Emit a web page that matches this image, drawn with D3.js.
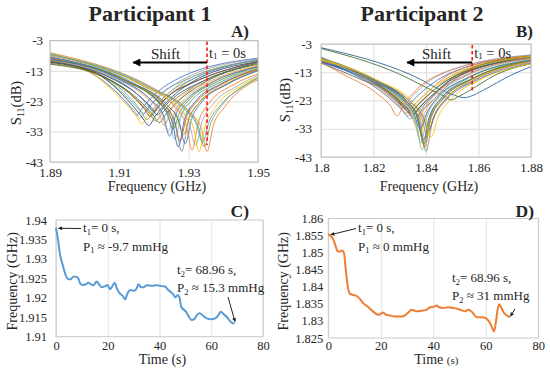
<!DOCTYPE html>
<html>
<head>
<meta charset="utf-8">
<script src="https://cdn.jsdelivr.net/npm/d3@7"></script>
<style>
  body { margin: 0; background: #fff; }
  svg { display: block; font-family: "Liberation Serif", "Times New Roman", serif; }
  text { font-family: "Liberation Serif", "Times New Roman", serif; fill: #262626; }
</style>
</head>
<body>
<svg width="550" height="369"></svg>
<script>
// ---- data ----
// S11 sweeps: [f0, dB@left edge, dB at f0+offset..., dB@right edge]
const dbTicks = [-3, -13, -23, -33, -43];
const freqTicksA = [1.89, 1.91, 1.93, 1.95];
const freqTicksB = [1.8, 1.82, 1.84, 1.86, 1.88];
const sweepOffsetsA = [-0.015, -0.005, -0.0018, 0, 0.0018, 0.005, 0.012];
const sweepOffsetsB = [-0.02, -0.007, -0.0025, 0, 0.0025, 0.007, 0.018];

const sweepsA = [
  [1.9150, -9.0, -12.5, -21.0, -25.0, -27.5, -25.0, -21.0, -15.5, -8.8],
  [1.9353, -7.0, -19.0, -26.5, -31.5, -39.5, -31.0, -25.0, -17.5, -16.0],
  [1.9160, -9.4, -13.0, -22.0, -26.0, -28.5, -26.0, -22.0, -16.0, -9.0],
  [1.9165, -10.0, -13.5, -23.5, -27.5, -30.5, -27.5, -23.5, -16.5, -9.5],
  [1.9170, -9.2, -13.0, -20.5, -24.5, -27.0, -24.5, -20.5, -16.0, -9.3],
  [1.9180, -9.6, -13.5, -22.5, -26.5, -29.0, -26.5, -22.5, -16.5, -9.6],
  [1.9185, -10.2, -14.0, -24.0, -28.5, -31.0, -28.0, -23.5, -17.0, -10.0],
  [1.9190, -9.8, -14.0, -21.5, -25.5, -28.0, -25.5, -21.5, -17.0, -10.0],
  [1.9200, -9.5, -14.0, -20.5, -24.0, -26.5, -24.0, -20.5, -16.5, -9.8],
  [1.9205, -10.5, -15.0, -23.0, -27.0, -29.5, -27.0, -23.0, -17.5, -10.5],
  [1.9210, -10.0, -14.5, -21.5, -25.0, -27.5, -25.0, -21.5, -17.0, -10.2],
  [1.9215, -10.8, -15.5, -23.5, -27.5, -30.0, -27.5, -23.5, -17.5, -10.8],
  [1.9195, -9.0, -13.5, -20.0, -23.5, -26.0, -23.5, -20.0, -15.5, -9.2],
  [1.9230, -9.5, -15.0, -22.0, -26.0, -31.0, -26.0, -21.5, -17.0, -11.0],
  [1.9240, -9.2, -15.5, -22.5, -27.0, -33.0, -27.0, -22.0, -17.0, -11.5],
  [1.9250, -9.0, -15.5, -22.0, -25.5, -29.0, -25.5, -21.5, -16.5, -11.2],
  [1.9260, -8.8, -16.0, -23.0, -28.0, -35.5, -28.0, -22.5, -17.5, -12.0],
  [1.9265, -9.0, -16.0, -23.0, -26.5, -30.5, -26.5, -22.0, -17.0, -11.8],
  [1.9270, -8.6, -16.5, -24.0, -29.5, -38.0, -29.0, -23.0, -17.5, -12.5],
  [1.9275, -8.9, -16.5, -23.5, -29.0, -36.0, -28.5, -23.0, -17.5, -12.2],
  [1.9280, -8.4, -17.0, -24.5, -30.5, -39.5, -30.0, -23.5, -18.0, -13.0],
  [1.9285, -8.7, -17.0, -24.0, -28.5, -34.0, -28.0, -23.0, -17.5, -12.5],
  [1.9290, -8.5, -17.0, -24.5, -29.5, -37.0, -29.0, -23.0, -17.5, -12.8],
  [1.9255, -9.3, -15.5, -22.5, -27.0, -32.0, -27.0, -22.0, -17.0, -11.5],
  [1.9245, -9.1, -15.5, -23.0, -27.5, -34.5, -27.5, -22.5, -17.0, -11.6],
  [1.9310, -8.0, -17.5, -25.0, -30.5, -39.0, -30.0, -23.5, -17.5, -14.0],
  [1.9320, -7.8, -18.0, -25.5, -30.5, -37.5, -30.0, -24.0, -18.0, -14.5],
  [1.9330, -7.5, -18.5, -26.0, -31.0, -39.5, -31.0, -24.5, -18.0, -15.0],
  [1.9340, -7.6, -18.5, -26.0, -30.5, -36.5, -30.0, -24.5, -18.0, -15.2],
  [1.9345, -7.3, -19.0, -26.0, -31.0, -38.0, -30.5, -24.5, -17.5, -15.5]
];

const sweepsB = [
  [1.8320, -8.0, -13.0, -19.5, -23.5, -26.0, -23.5, -19.5, -13.0, -7.0],
  [1.8325, -8.5, -13.5, -21.0, -25.0, -27.5, -25.0, -21.0, -13.0, -7.2],
  [1.8330, -9.0, -14.0, -22.0, -26.0, -28.5, -26.0, -22.0, -13.5, -7.5],
  [1.8335, -8.2, -13.5, -20.0, -24.0, -26.5, -24.0, -20.0, -13.5, -7.3],
  [1.8340, -9.5, -14.5, -23.0, -27.0, -29.5, -27.0, -23.0, -14.0, -7.8],
  [1.8345, -8.8, -14.0, -20.5, -24.5, -27.0, -24.5, -20.5, -13.5, -7.6],
  [1.8350, -9.2, -14.5, -21.5, -25.5, -28.0, -25.5, -21.5, -14.0, -8.0],
  [1.8355, -8.6, -14.0, -23.0, -27.0, -29.5, -27.0, -23.0, -14.0, -7.8],
  [1.8338, -9.8, -15.0, -21.0, -25.0, -27.5, -25.0, -21.0, -14.0, -8.2],
  [1.8348, -7.8, -13.5, -21.5, -25.5, -28.0, -25.5, -21.5, -13.5, -7.0],
  [1.8545, -4.3, -14.0, -20.0, -21.5, -22.0, -21.5, -19.5, -14.0, -11.0],
  [1.8495, -4.6, -13.5, -19.5, -21.5, -22.8, -21.8, -19.5, -13.5, -10.0],
  [1.8360, -9.0, -14.5, -21.5, -26.0, -31.0, -26.0, -21.0, -14.5, -8.2],
  [1.8365, -8.4, -14.5, -21.5, -26.0, -32.0, -26.5, -21.0, -14.5, -8.0],
  [1.8370, -8.6, -15.0, -22.0, -27.5, -34.0, -27.5, -21.5, -14.5, -8.4],
  [1.8375, -9.0, -15.0, -22.5, -28.0, -36.0, -28.0, -22.0, -15.0, -8.6],
  [1.8380, -8.2, -15.0, -22.5, -28.5, -38.0, -28.5, -22.0, -15.0, -8.5],
  [1.8385, -8.8, -15.5, -23.0, -29.0, -40.5, -29.5, -22.5, -15.0, -8.8],
  [1.8390, -9.4, -15.5, -23.0, -28.5, -37.0, -28.5, -22.0, -15.5, -9.0],
  [1.8395, -8.5, -15.5, -23.0, -29.0, -39.5, -29.0, -22.5, -15.5, -9.0],
  [1.8400, -9.0, -16.0, -23.5, -29.5, -41.0, -30.0, -23.0, -16.0, -9.5],
  [1.8405, -8.7, -16.0, -23.0, -28.5, -35.0, -28.5, -22.5, -15.5, -9.2],
  [1.8378, -9.6, -15.5, -22.5, -27.5, -33.0, -27.5, -21.5, -15.0, -8.8],
  [1.8392, -8.0, -15.0, -23.0, -29.0, -38.5, -29.0, -22.5, -15.5, -8.6],
  [1.8410, -9.2, -16.0, -23.5, -28.0, -33.5, -28.0, -22.5, -16.0, -9.8],
  [1.8290, -9.5, -14.0, -21.0, -25.0, -28.5, -24.5, -19.5, -13.0, -7.0],
  [1.8310, -7.5, -12.5, -19.5, -23.0, -26.0, -23.0, -18.5, -12.5, -6.8],
  [1.8420, -8.5, -16.0, -23.5, -29.0, -36.0, -29.0, -23.0, -16.0, -10.0]
];

// resonance frequency vs time: [time s, frequency GHz]
const timeTicks = [0, 20, 40, 60, 80];
const freqTicksC = [1.91, 1.915, 1.92, 1.925, 1.93, 1.935, 1.94];
const freqTicksD = [1.825, 1.83, 1.835, 1.84, 1.845, 1.85, 1.855, 1.86];

const trackC = [
  [0, 1.9380], [0.9, 1.9344], [1.5, 1.9314], [2.6, 1.9284], [3.5, 1.9263], [4.8, 1.9248],
  [5.7, 1.9248], [6.7, 1.9254], [7.7, 1.9254], [8.6, 1.9250], [9.5, 1.9235], [10.6, 1.9233],
  [11.6, 1.9235], [12.5, 1.9239], [13.4, 1.9235], [14.5, 1.9232], [15.7, 1.9242], [16.8, 1.9233],
  [17.7, 1.9227], [19, 1.9230], [19.9, 1.9233], [20.9, 1.9222], [21.8, 1.9230], [22.7, 1.9239],
  [23.5, 1.9224], [24.8, 1.9210], [25.8, 1.9205], [26.7, 1.9196], [27.6, 1.9211], [28.6, 1.9220],
  [29.9, 1.9218], [31, 1.9222], [31.9, 1.9235], [32.8, 1.9227], [33.8, 1.9227], [35.1, 1.9232],
  [37, 1.9231], [39, 1.9232], [40.9, 1.9230], [42.2, 1.9229], [43.1, 1.9222], [44.1, 1.9216],
  [45.2, 1.9210], [46.1, 1.9201], [47, 1.9207], [47.7, 1.9201], [48.4, 1.9177], [49.3, 1.9170],
  [50.3, 1.9164], [51.2, 1.9153], [52.5, 1.9143], [53.4, 1.9145], [54.5, 1.9156], [55.5, 1.9160],
  [57, 1.9153], [58.3, 1.9147], [59.9, 1.9145], [61.5, 1.9147], [62.8, 1.9156], [63.7, 1.9164],
  [64.8, 1.9158], [66.1, 1.9150], [67.4, 1.9139], [68.6, 1.9134], [69, 1.9136]
];

const trackD = [
  [0, 1.8554], [1, 1.8548], [1.9, 1.8539], [2.8, 1.8519], [3.6, 1.8503], [4.4, 1.8503],
  [5.3, 1.8506], [6, 1.8498], [6.6, 1.8454], [7.4, 1.8401], [8.3, 1.8379], [9.5, 1.8376],
  [10.8, 1.8373], [12.1, 1.8364], [13.3, 1.8352], [15, 1.8342], [16.5, 1.8331], [17.8, 1.8323],
  [19, 1.8318], [20, 1.8321], [20.9, 1.8325], [22, 1.8318], [23.5, 1.8316], [25.4, 1.8313],
  [27.9, 1.8313], [29.2, 1.8316], [30.5, 1.8325], [31.7, 1.8333], [32.8, 1.8330], [34, 1.8328],
  [35.6, 1.8330], [37.5, 1.8333], [38.7, 1.8340], [40.4, 1.8342], [41.3, 1.8345], [42.2, 1.8340],
  [43.8, 1.8338], [45.7, 1.8340], [47.6, 1.8338], [49.5, 1.8335], [50.8, 1.8331], [52.1, 1.8328],
  [53.3, 1.8333], [54.9, 1.8325], [56.5, 1.8311], [58.4, 1.8311], [59.9, 1.8308], [61.2, 1.8299],
  [62.2, 1.8284], [63.1, 1.8269], [63.7, 1.8289], [64.5, 1.8333], [65.1, 1.8349], [66, 1.8337],
  [67, 1.8323], [68.3, 1.8315], [69.2, 1.8311]
];

const palette = ["#4472C4", "#ED7D31", "#A5A5A5", "#FFC000", "#5B9BD5", "#70AD47",
  "#264478", "#9E480E", "#636363", "#997300", "#255E91", "#43682B",
  "#698ED0", "#F1975A", "#B7B7B7", "#FFCD33", "#7CAFDD", "#8CC168",
  "#335AA1", "#D26012", "#848484", "#CC9A00", "#327DC2", "#5A8A39"];

const serif = '"Liberation Serif", "Times New Roman", serif';
const sans = '"Liberation Sans", Arial, sans-serif';

const svg = d3.select("svg");
const defs = svg.append("defs");

defs.append("marker").attr("id", "bigHead")
  .attr("viewBox", "0 0 10 10").attr("refX", 9).attr("refY", 5)
  .attr("markerWidth", 9).attr("markerHeight", 8).attr("markerUnits", "userSpaceOnUse")
  .attr("orient", "auto")
  .append("path").attr("d", "M0,0L10,5L0,10z").attr("fill", "#000");

defs.append("marker").attr("id", "smallHead")
  .attr("viewBox", "0 0 10 10").attr("refX", 9).attr("refY", 5)
  .attr("markerWidth", 5).attr("markerHeight", 4).attr("markerUnits", "userSpaceOnUse")
  .attr("orient", "auto")
  .append("path").attr("d", "M0,0L10,5L0,10z").attr("fill", "#222");

function styleAxisText(sel, size) {
  sel.attr("font-family", serif);
  sel.select(".domain").remove();
  sel.selectAll("text").attr("font-family", serif).attr("font-size", size).attr("fill", "#333");
}

function sweepPanel(p) {
  const x = d3.scaleLinear().domain(p.xDomain).range([p.left, p.right]);
  const y = d3.scaleLinear().domain([-43, -3]).range([p.bottom, p.top]);
  const g = svg.append("g");
  const w = p.right - p.left, h = p.bottom - p.top;

  // gridlines
  g.append("g").attr("transform", `translate(0,${p.bottom})`)
    .call(d3.axisBottom(x).tickValues(p.xTicks).tickSize(-h).tickFormat(""))
    .call(a => a.select(".domain").remove())
    .call(a => a.selectAll("line").attr("stroke", "#dedede"));
  g.append("g").attr("transform", `translate(${p.left},0)`)
    .call(d3.axisLeft(y).tickValues(dbTicks).tickSize(-w).tickFormat(""))
    .call(a => a.select(".domain").remove())
    .call(a => a.selectAll("line").attr("stroke", "#dedede"));

  defs.append("clipPath").attr("id", "clip" + p.name)
    .append("rect").attr("x", p.left).attr("y", p.top).attr("width", w).attr("height", h);

  const line = d3.line().x(d => x(d[0])).y(d => y(d[1])).curve(d3.curveMonotoneX);
  const toPoints = r => [[p.xDomain[0], r[1]]]
    .concat(p.offsets.map((o, i) => [r[0] + o, r[i + 2]]))
    .concat([[p.xDomain[1], r[r.length - 1]]]);

  g.append("g").attr("clip-path", `url(#clip${p.name})`)
    .selectAll("path").data(p.sweeps).join("path")
    .attr("d", r => line(toPoints(r)))
    .attr("fill", "none")
    .attr("stroke", (r, i) => palette[i % palette.length])
    .attr("stroke-opacity", 0.85)
    .attr("stroke-width", 1);

  g.append("rect").attr("x", p.left).attr("y", p.top).attr("width", w).attr("height", h)
    .attr("fill", "none").attr("stroke", "#bfbfbf");

  g.append("g").attr("transform", `translate(0,${p.bottom})`)
    .call(d3.axisBottom(x).tickValues(p.xTicks).tickSize(0).tickPadding(5.5).tickFormat(d => String(d)))
    .call(a => styleAxisText(a, 13));
  g.append("g").attr("transform", `translate(${p.left},0)`)
    .call(d3.axisLeft(y).tickValues(dbTicks).tickSize(0).tickPadding(p.yPad).tickFormat(d => String(d)))
    .call(a => styleAxisText(a, 13));

  // axis titles
  g.append("text").attr("x", (p.left + p.right) / 2 + 3).attr("y", 190.5)
    .attr("text-anchor", "middle").attr("font-size", 14).text("Frequency (GHz)");
  const yt = g.append("text").attr("transform", `translate(${p.yTitleX},${p.yTitleY}) rotate(-90)`)
    .attr("text-anchor", "middle").attr("font-size", 14.5);
  yt.append("tspan").text("S");
  yt.append("tspan").attr("font-size", 10).attr("dy", 3).text("11");
  yt.append("tspan").attr("dy", -3).text("(dB)");

  // title & panel letter
  g.append("text").attr("x", p.titleX).attr("y", 21).attr("text-anchor", "middle")
    .attr("font-size", 22).attr("font-weight", "bold").attr("fill", "#000").text(p.title);
  g.append("text").attr("x", p.letterX).attr("y", 37).attr("text-anchor", "end")
    .attr("font-size", 17).attr("font-weight", "bold").attr("fill", "#000").text(p.letter);

  // t1 marker and shift arrow
  const xs = x(p.startFreq);
  g.append("line").attr("x1", xs).attr("x2", xs).attr("y1", p.top + 1).attr("y2", y(p.dashEnd))
    .attr("stroke", "#ff1a1a").attr("stroke-width", 1.6).attr("stroke-dasharray", "3.5,2.5");
  g.append("line").attr("x1", xs).attr("x2", x(p.arrowTip)).attr("y1", 62.5).attr("y2", 62.5)
    .attr("stroke", "#000").attr("stroke-width", 2.2).attr("marker-end", "url(#bigHead)");
  g.append("text").attr("x", p.shiftX).attr("y", 59).attr("font-size", 15).attr("fill", "#111").text("Shift");
  const t1 = g.append("text").attr("x", xs + 2).attr("y", 58).attr("font-size", 14.5).attr("fill", "#111");
  t1.append("tspan").text("t");
  t1.append("tspan").attr("font-size", 9).attr("dy", 1).text("1");
  t1.append("tspan").attr("dy", -1).text(" = 0s");
}

sweepPanel({
  name: "A", left: 50, right: 258, top: 40.5, bottom: 162, xDomain: [1.89, 1.95],
  xTicks: freqTicksA, offsets: sweepOffsetsA, sweeps: sweepsA, yPad: 7,
  yTitleX: 21, yTitleY: 103, title: "Participant 1", titleX: 150, letter: "A)", letterX: 249,
  startFreq: 1.9353, dashEnd: -37.5, arrowTip: 1.914, shiftX: 151
});
sweepPanel({
  name: "B", left: 321, right: 531, top: 44, bottom: 157, xDomain: [1.8, 1.88],
  xTicks: freqTicksB, offsets: sweepOffsetsB, sweeps: sweepsB, yPad: 9,
  yTitleX: 290, yTitleY: 100, title: "Participant 2", titleX: 422, letter: "B)", letterX: 533,
  startFreq: 1.8576, dashEnd: -20.3, arrowTip: 1.8328, shiftX: 422
});

function trackPanel(p) {
  const x = d3.scaleLinear().domain([0, 80]).range([p.left, p.right]);
  const y = d3.scaleLinear().domain(p.yDomain).range([p.bottom, p.top]);
  const g = svg.append("g");
  const w = p.right - p.left, h = p.bottom - p.top;

  g.append("g").attr("transform", `translate(0,${p.bottom})`)
    .call(d3.axisBottom(x).tickValues(timeTicks).tickSize(-h).tickFormat(""))
    .call(a => a.select(".domain").remove())
    .call(a => a.selectAll("line").attr("stroke", "#e3e3e3"));
  g.append("rect").attr("x", p.left).attr("y", p.top).attr("width", w).attr("height", h)
    .attr("fill", "none").attr("stroke", "#c8c8c8");

  g.append("path").datum(p.track)
    .attr("d", d3.line().x(d => x(d[0])).y(d => y(d[1])).curve(d3.curveMonotoneX))
    .attr("fill", "none").attr("stroke", p.color).attr("stroke-width", 2)
    .attr("stroke-linejoin", "round");

  g.append("g").attr("transform", `translate(0,${p.bottom})`)
    .call(d3.axisBottom(x).tickValues(timeTicks).tickSize(0).tickPadding(p.xPad).tickFormat(d => String(d)))
    .call(a => styleAxisText(a, 12.5));
  g.append("g").attr("transform", `translate(${p.left},0)`)
    .call(d3.axisLeft(y).tickValues(p.yTicks).tickSize(0).tickPadding(p.yPad).tickFormat(d => String(d)))
    .call(a => styleAxisText(a, 12.5));

  g.append("text").attr("transform", `translate(${p.yTitleX},${(p.top + p.bottom) / 2 + 3}) rotate(-90)`)
    .attr("text-anchor", "middle").attr("font-family", sans).attr("font-size", 14)
    .attr("fill", "#333").text("Frequency (GHz)");
  const tt = g.append("text").attr("x", (p.left + p.right) / 2 + 3).attr("y", 364)
    .attr("text-anchor", "middle").attr("font-size", 14);
  tt.append("tspan").text("Time ");
  tt.append("tspan").attr("font-size", p.sSize).text("(s)");

  g.append("text").attr("x", p.letterX).attr("y", 217).attr("text-anchor", "end")
    .attr("font-size", 17.5).attr("font-weight", "bold").attr("fill", "#000").text(p.letter);

  // annotations
  const first = p.track[0], last = p.track[p.track.length - 1];
  const note = (tx, ty, sub, rest) => {
    const t = g.append("text").attr("x", tx).attr("y", ty).attr("font-size", 13);
    t.append("tspan").text(sub[0]);
    t.append("tspan").attr("font-size", 8.5).attr("dy", 2.5).text(sub[1]);
    t.append("tspan").attr("dy", -2.5).text(rest);
  };
  note(p.n1x, 232, ["t", "1"], "= 0 s,");
  note(p.n1x, 250.5, ["P", "1"], p.p1);
  note(p.n2x, p.n2y, ["t", "2"], "= 68.96 s,");
  note(p.n2x, p.n2y + 18, ["P", "2"], p.p2);

  g.append("line").attr("x1", p.n1x - 2).attr("y1", 228.5)
    .attr("x2", x(first[0]) + 2.5).attr("y2", y(first[1]) + 0.5)
    .attr("stroke", "#222").attr("stroke-width", 1).attr("marker-end", "url(#smallHead)");
  g.append("line").attr("x1", p.a2x).attr("y1", p.a2y)
    .attr("x2", x(last[0]) + 0.5).attr("y2", y(last[1]) - 1)
    .attr("stroke", "#222").attr("stroke-width", 1).attr("marker-end", "url(#smallHead)");
}

trackPanel({
  left: 56, right: 263, top: 220, bottom: 336.7, yDomain: [1.91, 1.94], yTicks: freqTicksC,
  track: trackC, color: "#5B9BD5", xPad: 4.5, yPad: 9, yTitleX: 17, sSize: 14,
  letter: "C)", letterX: 249, n1x: 83, p1: " \u2248 -9.7 mmHg",
  n2x: 177, n2y: 274, p2: " \u2248 15.3 mmHg", a2x: 228, a2y: 297
});
trackPanel({
  left: 328.3, right: 538.3, top: 218.5, bottom: 338, yDomain: [1.825, 1.86], yTicks: freqTicksD,
  track: trackD, color: "#ED7D31", xPad: 3, yPad: 5, yTitleX: 288, sSize: 11,
  letter: "D)", letterX: 534, n1x: 358, p1: " \u2248 0 mmHg",
  n2x: 452, n2y: 282, p2: " \u2248 31 mmHg", a2x: 515, a2y: 309
});
</script>
</body>
</html>
